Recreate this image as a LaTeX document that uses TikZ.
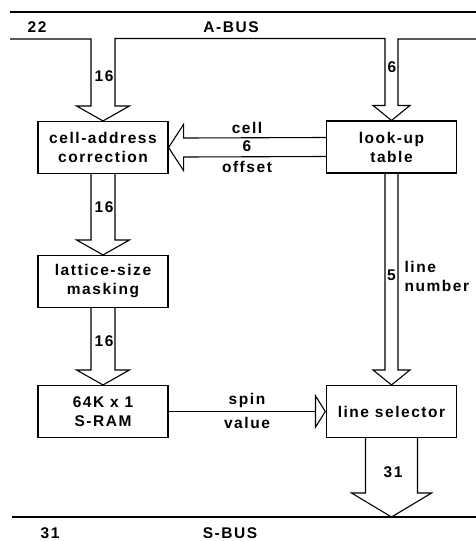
\documentclass[tikz,border=0pt]{standalone}
\usepackage{fontspec}
\setmainfont{Liberation Sans}[LetterSpace=10]
\usetikzlibrary{calc,arrows.meta}

\begin{document}
\begin{tikzpicture}[x=1pt,y=-1pt,line width=1.1pt,
  lbl/.style={font=\fontsize{15.5}{19}\selectfont\bfseries,inner sep=0pt},
  box/.style={draw,lbl,minimum width=130pt,minimum height=52pt,align=center}]
\useasboundingbox (0,0) rectangle (476,541);
% blocks
\node[box] (cac) at (103,147.5) {cell-address\\correction};
\node[box] (lut) at (391.5,147) {look-up\\table};
\node[box] (lsm) at (103,281.5) {lattice-size\\masking};
\node[box] (ram) at (103,411.5) {64K x 1\\S-RAM};
\node[box] (sel) at (391.5,411.5) {line selector};
% buses
\coordinate (tL) at (10,12); \coordinate (tR) at (476,12);
\coordinate (aL) at (10,39); \coordinate (aR) at (476,39);
\coordinate (sL) at (12,517); \coordinate (sR) at (476,517);
\draw (tL) -- (tR);
\draw (sL) -- (sR);
\node[lbl] (n22) at (37,27) {22};
\node[lbl] (abus) at (231,27) {A-BUS};
\node[lbl] (n31) at (50,533) {31};
\node[lbl] (sbus) at (230,533) {S-BUS};
% A-BUS into the two blocks
\draw (aL) -| ($(cac.north)+(-12,-15)$) -- ++(-14.5,0) -- (cac.north) -- ++(26.5,-15) -- ++(-14.5,0)
  |- ($(lut.north)+(-6.5,-82)$) -- ++(0,67) -- ++(-12,0) -- (lut.north) -- ++(18.5,-15) -- ++(-12,0) |- (aR);
\node[lbl] (w1) at (104,76) {16};
\node[lbl] (w2) at (392,67) {6};
% left column
\foreach \a/\b in {cac/lsm,lsm/ram}
  \draw ($(\a.south)+(-12,0)$) -- ($(\b.north)+(-12,-15)$) -- ++(-14.5,0) -- (\b.north) -- ++(26.5,-15) -- ++(-14.5,0) -- ($(\a.south)+(12,0)$);
\node[lbl] (w3) at (104,207) {16};
\node[lbl] (w4) at (104,341) {16};
% cell offset
\draw ($(lut.west)+(0,-9.5)$) -- ($(cac.east)+(15,-9.5)$) -- ++(0,-13.5) -- (cac.east) -- ++(15,23) -- ++(0,-13.5) -- ($(lut.west)+(0,9.5)$);
\node[lbl] (cell) at (247,128) {cell};
\node[lbl] (w5) at (247,146) {6};
\node[lbl] (offs) at (247,167) {offset};
% line number
\draw ($(lut.south)+(-6.5,0)$) -- ($(sel.north)+(-6.5,-15)$) -- ++(-12,0) -- (sel.north) -- ++(18.5,-15) -- ++(-12,0) -- ($(lut.south)+(6.5,0)$);
\node[lbl] (w6) at (391.5,275) {5};
\node[lbl,anchor=west,align=left] (lnum) at (404,276) {line\\number};
% spin value
\draw[-{Triangle[open,length=11pt,width=35pt]}] (ram.east) -- (sel.west);
\node[lbl] (spin) at (247,400) {spin};
\node[lbl] (val) at (247,423) {value};
% onto S-BUS
\draw ($(sel.south)+(-26,0)$) -- ($(sel.south |- sL)+(-26,-24)$) -- ++(-14,0) -- (sel.south |- sL) -- ++(40,-24) -- ++(-14,0) -- ($(sel.south)+(26,0)$);
\node[lbl] (w7) at (393,472) {31};
\end{tikzpicture}
\end{document}
